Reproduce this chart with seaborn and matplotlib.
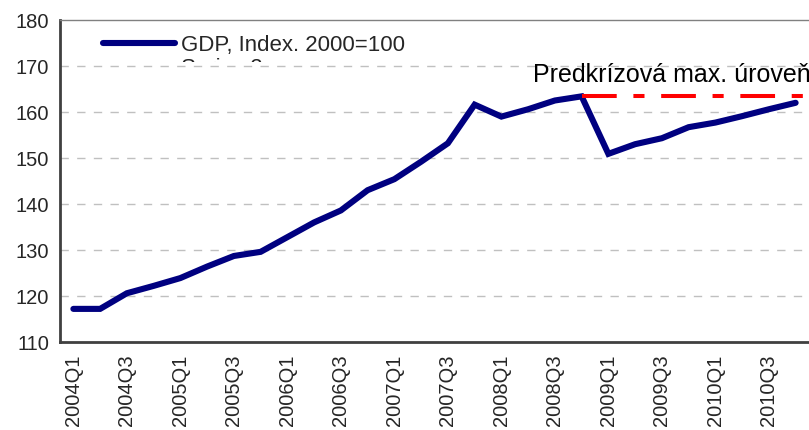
import numpy as np
import pandas as pd
import matplotlib
matplotlib.use("Agg")
import matplotlib.pyplot as plt
import seaborn as sns
from matplotlib.transforms import Bbox, TransformedBbox

# quarters 2004Q1 .. 2010Q4
quarters = [f"{y}Q{q}" for y in range(2004, 2011) for q in range(1, 5)]

# GDP, index 2000=100
gdp = [117.2, 117.2, 120.6, 122.2, 123.9, 126.4, 128.7, 129.6,
       132.8, 136.0, 138.6, 143.0, 145.4, 149.2, 153.2, 161.6,
       159.0, 160.6, 162.5, 163.4, 150.9, 153.0, 154.3, 156.7,
       157.7, 159.1, 160.6, 162.0]

pre_crisis_max = max(gdp)
label_series = "GDP, Index. 2000=100"
label_max = "Predkrízová max. úroveň"

df = pd.DataFrame({"pos": np.arange(len(quarters)), "quarter": quarters, "gdp": gdp})

sns.set_style("white")
plt.rcParams["font.family"] = ["Liberation Sans", "DejaVu Sans"]
plt.rcParams["lines.scale_dashes"] = False

fig = plt.figure(figsize=(8.09, 4.30), dpi=100)
ax = fig.add_axes([60 / 809, 88 / 430, 749 / 809, 322 / 430])

sns.lineplot(data=df, x="pos", y="gdp", ax=ax, color="#000080", linewidth=4.4,
             label=label_series, solid_capstyle="round", solid_joinstyle="miter")

# pre-crisis maximum line, from the peak quarter to the right edge
peak_pos = gdp.index(pre_crisis_max)
ax.plot([peak_pos, len(quarters) - 0.5], [pre_crisis_max, pre_crisis_max],
        color="#ff0000", linewidth=2.9, dashes=(25, 12, 8, 12),
        dash_capstyle="butt", solid_capstyle="butt")
ax.text(len(quarters) - 0.45, 166.5, label_max, ha="right", va="baseline",
        fontsize=18, color="black")

ax.set_xlim(-0.5, len(quarters) - 0.5)
ax.set_ylim(110, 180)
ax.set_yticks(range(110, 181, 10))
ax.tick_params(axis="y", length=0, labelsize=14.5, pad=8)

# category boundaries as tick marks, labels every second quarter
ax.set_xticks(np.arange(-0.5, len(quarters), 1.0))
ax.set_xticklabels([])
ax.tick_params(axis="x", which="major", length=5, width=1.2, color="#404040", direction="out")
ax.set_xticks(df["pos"][::2], minor=True)
ax.set_xticklabels(df["quarter"][::2], minor=True, rotation=90, fontsize=14.5)
ax.tick_params(axis="x", which="minor", length=0, pad=9)

ax.set_xlabel("")
ax.set_ylabel("")

for v in range(120, 180, 10):
    ax.axhline(v, color="#c0c0c0", linewidth=1, dashes=(6, 6), zorder=0)

ax.spines["left"].set_color("#404040")
ax.spines["left"].set_linewidth(2)
ax.spines["bottom"].set_color("#404040")
ax.spines["bottom"].set_linewidth(2)
ax.spines["top"].set_color("#808080")
ax.spines["top"].set_linewidth(1)
ax.spines["right"].set_visible(False)

leg = ax.legend(loc="center left", bbox_to_anchor=(103 / 809, 1 - 45 / 430),
                bbox_transform=fig.transFigure, frameon=False, fontsize=16,
                borderpad=0, borderaxespad=0, handlelength=3.25, handletextpad=0.25)

# second legend entry, mostly hidden in the original
t = fig.text(181 / 809, 1 - 74 / 430, "Series 2", ha="left", va="baseline", fontsize=16)
t.set_clip_on(True)
t.set_clip_box(TransformedBbox(Bbox([[0, 1 - 62 / 430], [1, 1 - 50 / 430]]), fig.transFigure))

fig.savefig("out.png", dpi=100)
